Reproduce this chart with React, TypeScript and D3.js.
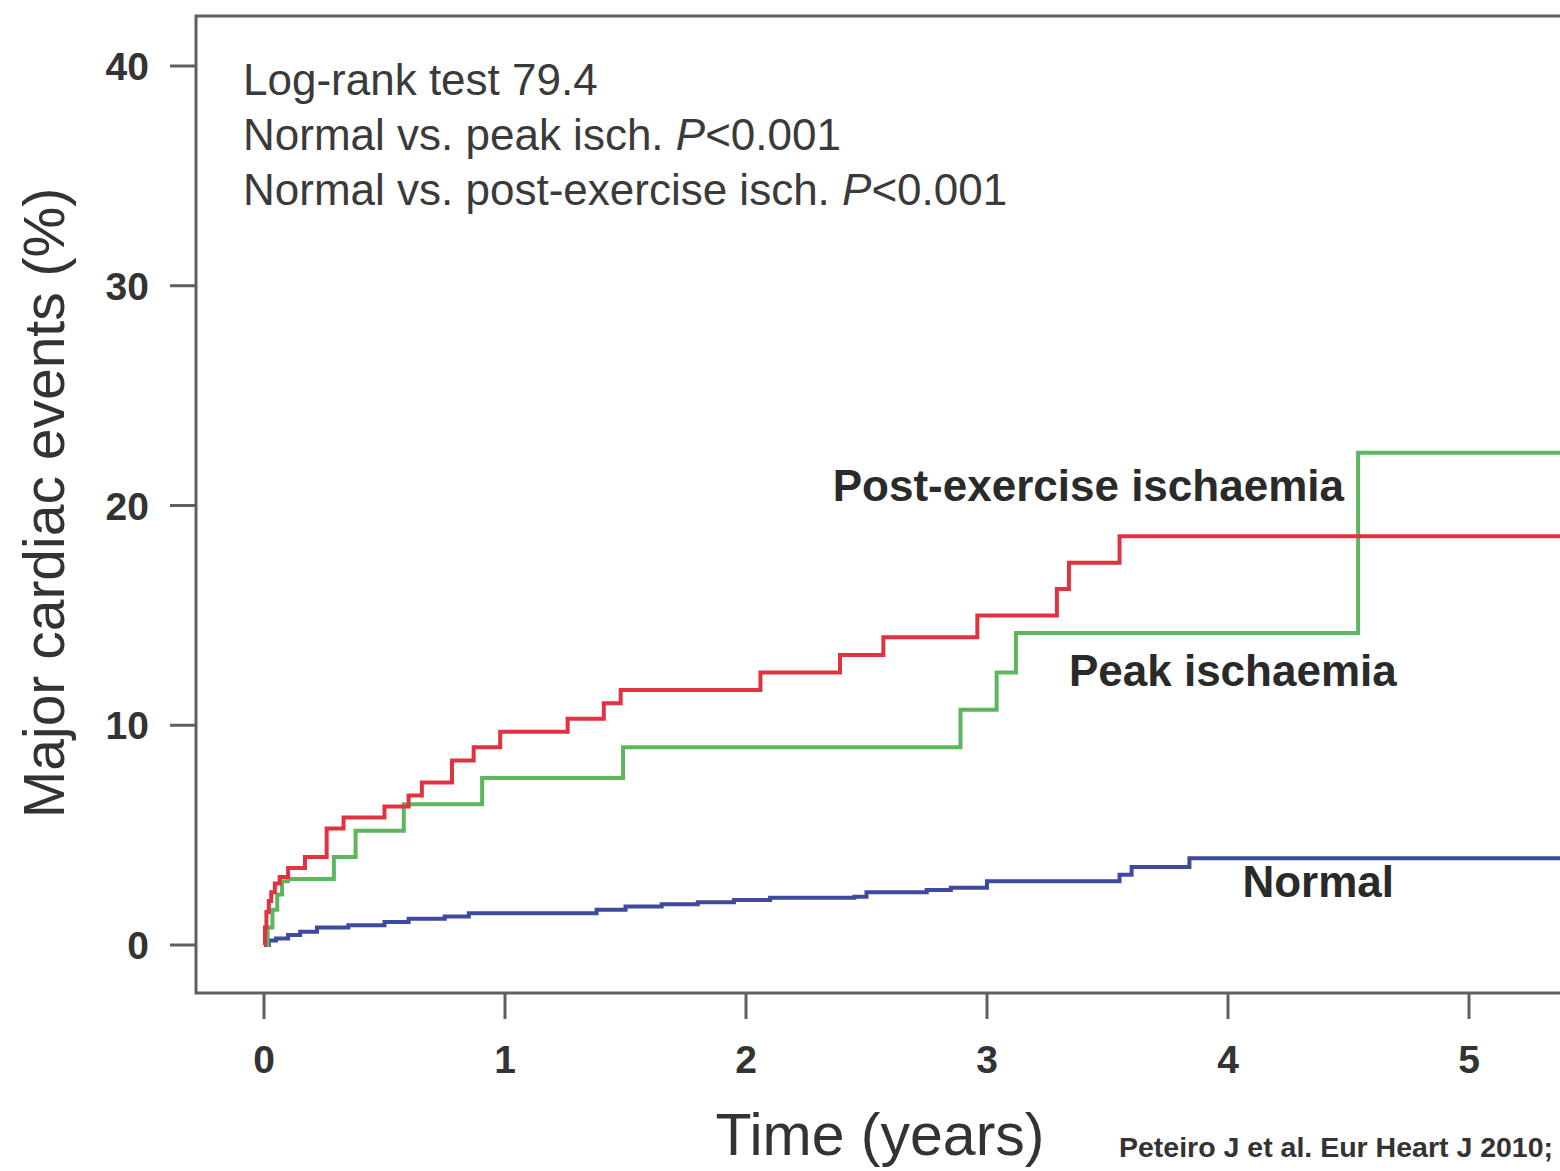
import React from "react";
import * as d3 from "d3";

// Cumulative major cardiac events (%) by follow-up time (years); step-after points
const normalSteps: [number, number][] = [
  [0, 0], [0.02, 0.2], [0.05, 0.3], [0.1, 0.45], [0.15, 0.6], [0.22, 0.8],
  [0.35, 0.9], [0.5, 1.05], [0.6, 1.2], [0.75, 1.3], [0.85, 1.45], [1.3, 1.45],
  [1.38, 1.6], [1.5, 1.75], [1.65, 1.85], [1.8, 1.95], [1.95, 2.05], [2.1, 2.15],
  [2.45, 2.2], [2.5, 2.4], [2.75, 2.5], [2.85, 2.6], [3.0, 2.9], [3.55, 3.2],
  [3.6, 3.55], [3.84, 3.95], [5.5, 3.95],
];

const redSteps: [number, number][] = [
  [0, 0], [0.004, 0.8], [0.01, 1.5], [0.02, 2.0], [0.03, 2.4], [0.045, 2.8],
  [0.065, 3.1], [0.1, 3.5], [0.17, 4.0], [0.26, 5.3], [0.33, 5.8], [0.5, 6.3],
  [0.6, 6.8], [0.655, 7.4], [0.78, 8.4], [0.87, 9.0], [0.98, 9.7], [1.26, 10.3],
  [1.41, 11.0], [1.48, 11.6], [2.06, 12.4], [2.39, 13.2], [2.57, 14.0],
  [2.96, 15.0], [3.29, 16.2], [3.34, 17.4], [3.55, 18.6], [5.5, 18.6],
];

const greenSteps: [number, number][] = [
  [0, 0], [0.015, 0.8], [0.035, 1.6], [0.055, 2.3], [0.075, 2.9], [0.1, 3.0],
  [0.29, 4.0], [0.38, 5.2], [0.58, 6.4], [0.905, 7.6], [1.49, 9.0], [2.89, 10.7],
  [3.04, 12.4], [3.12, 14.2], [4.54, 22.4], [5.5, 22.4],
];

const xTicks = [0, 1, 2, 3, 4, 5];
const yTicks = [0, 10, 20, 30, 40];

const statLines = [
  { text: "Log-rank test 79.4", p: null },
  { text: "Normal vs. peak isch. ", p: "<0.001" },
  { text: "Normal vs. post-exercise isch. ", p: "<0.001" },
];

const curveLabels = [
  { text: "Post-exercise ischaemia", t: 2.36, v: 20.2 },
  { text: "Peak ischaemia", t: 3.34, v: 11.8 },
  { text: "Normal", t: 4.06, v: 2.2 },
];

const FONT = "'Liberation Sans', Arial, Helvetica, sans-serif";

export default function App() {
  const W = 1560;
  const H = 1171;
  const x = d3.scaleLinear().domain([0, 5]).range([264, 1469]);
  const y = d3.scaleLinear().domain([0, 40]).range([945, 66]);
  const line = d3
    .line<[number, number]>()
    .x((d) => x(d[0]))
    .y((d) => y(d[1]))
    .curve(d3.curveStepAfter);

  const boxLeft = 196;
  const boxTop = 16;
  const boxBottom = 993;
  const boxRight = 1600;
  const axisColor = "#5f5f5f";

  return (
    <svg
      width={W}
      height={H}
      style={{ position: "absolute", left: 0, top: 0, background: "#fff" }}
      fontFamily={FONT}
    >
      <rect x={0} y={0} width={W} height={H} fill="#fff" />
      {/* plot frame */}
      <rect
        x={boxLeft}
        y={boxTop}
        width={boxRight - boxLeft}
        height={boxBottom - boxTop}
        fill="none"
        stroke={axisColor}
        strokeWidth={3}
      />
      {/* y axis ticks */}
      {yTicks.map((t) => (
        <g key={"y" + t}>
          <line x1={170} x2={boxLeft} y1={y(t)} y2={y(t)} stroke={axisColor} strokeWidth={3} />
          <text
            x={149}
            y={y(t)}
            dy="0.36em"
            textAnchor="end"
            fontSize={39}
            fontWeight="bold"
            fill="#333"
          >
            {t}
          </text>
        </g>
      ))}
      {/* x axis ticks */}
      {xTicks.map((t) => (
        <g key={"x" + t}>
          <line x1={x(t)} x2={x(t)} y1={boxBottom} y2={1019} stroke={axisColor} strokeWidth={3} />
          <text
            x={x(t)}
            y={1073}
            textAnchor="middle"
            fontSize={39}
            fontWeight="bold"
            fill="#333"
          >
            {t}
          </text>
        </g>
      ))}
      {/* axis titles */}
      <text
        transform="translate(64,503) rotate(-90)"
        textAnchor="middle"
        fontSize={57}
        fill="#333"
      >
        Major cardiac events (%)
      </text>
      <text x={880} y={1155} textAnchor="middle" fontSize={59} fill="#333">
        Time (years)
      </text>
      <text x={1119} y={1157} fontSize={28.5} fontWeight="bold" fill="#333">
        Peteiro J et al. Eur Heart J 2010;
      </text>

      {/* survival curves */}
      <g fill="none" strokeWidth={4} strokeLinejoin="miter">
        <path d={line(normalSteps) || ""} stroke="#3d4a9e" />
        <path d={line(greenSteps) || ""} stroke="#5cb65c" />
        <path d={line(redSteps) || ""} stroke="#e0323f" />
      </g>

      {/* statistics */}
      {statLines.map((s, i) => (
        <text key={"s" + i} x={243} y={95 + i * 55} fontSize={44} fill="#3a3a3a">
          {s.text}
          {s.p && (
            <>
              <tspan fontStyle="italic">P</tspan>
              {s.p}
            </>
          )}
        </text>
      ))}

      {/* curve labels */}
      {curveLabels.map((l) => (
        <text
          key={l.text}
          x={x(l.t)}
          y={y(l.v)}
          fontSize={44}
          fontWeight="bold"
          fill="#2a2a2a"
        >
          {l.text}
        </text>
      ))}
    </svg>
  );
}
